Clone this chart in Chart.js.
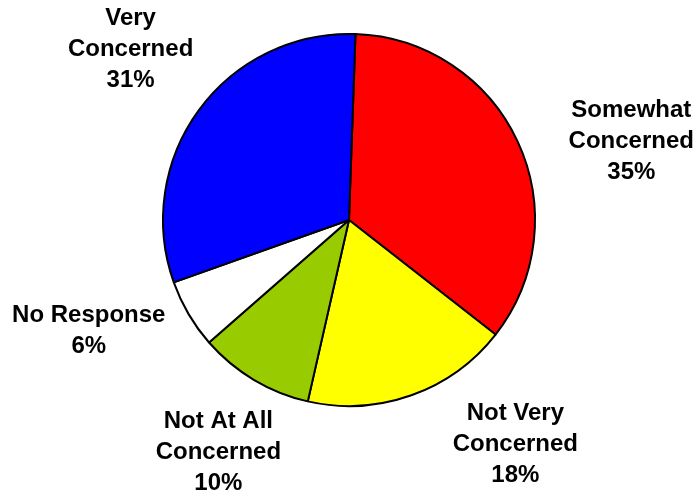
<!DOCTYPE html>
<html>
<head>
<meta charset="utf-8">
<title>Level of concern</title>
<script src="https://cdn.jsdelivr.net/npm/chart.js@4.4.1/dist/chart.umd.min.js"></script>
<style>
    html, body { margin: 0; padding: 0; background: #ffffff; }
    #chartWrap { width: 697px; height: 496px; }
</style>
</head>
<body>
<div id="chartWrap"><canvas id="concernChart" width="697" height="496"></canvas></div>
<script>
// Datos del grafico
const categories = [
    ['Somewhat', 'Concerned'],
    ['Not Very', 'Concerned'],
    ['Not At All', 'Concerned'],
    ['No Response'],
    ['Very', 'Concerned']
];
const percentages = [35, 18, 10, 6, 31];
const sliceColors = ['#ff0000', '#ffff00', '#99cc00', '#ffffff', '#0000ff'];

// Ajuste de posicion de cada etiqueta (giro en grados, distancia en radios)
const labelPlacement = [
    { shift: 9.5, dist: 1.575 },
    { shift: -17, dist: 1.50 },
    { shift: -1.5, dist: 1.435 },
    { shift: 7.4, dist: 1.52 },
    { shift: 1.8, dist: 1.49 }
];

// Plugin para dibujar las etiquetas fuera del pastel
const outsideLabels = {
    id: 'outsideLabels',
    afterDatasetsDraw(chart) {
        const ctx = chart.ctx;
        const meta = chart.getDatasetMeta(0);
        const lineHeight = 31;
        ctx.save();
        ctx.font = 'bold 24px "Liberation Sans", Arial, sans-serif';
        ctx.fillStyle = '#000000';
        ctx.textAlign = 'center';
        ctx.textBaseline = 'middle';
        meta.data.forEach((arc, i) => {
            const p = labelPlacement[i];
            const mid = (arc.startAngle + arc.endAngle) / 2 + p.shift * Math.PI / 180;
            const r = arc.outerRadius * p.dist;
            const cx = arc.x + Math.cos(mid) * r;
            const cy = arc.y + Math.sin(mid) * r;
            const lines = categories[i].concat([percentages[i] + '%']);
            const top = cy - (lines.length - 1) * lineHeight / 2;
            lines.forEach((line, j) => {
                ctx.fillText(line, cx, top + j * lineHeight);
            });
        });
        ctx.restore();
    }
};

document.addEventListener('DOMContentLoaded', function() {
    const ctxConcern = document.getElementById('concernChart').getContext('2d');
    new Chart(ctxConcern, {
        type: 'pie',
        data: {
            labels: categories.map(c => c.join(' ')),
            datasets: [{
                data: percentages,
                backgroundColor: sliceColors,
                borderColor: '#000000',
                borderWidth: 2
            }]
        },
        options: {
            responsive: false,
            animation: false,
            devicePixelRatio: 1,
            rotation: 2,
            layout: {
                padding: { top: 33, bottom: 89, left: 162, right: 161 }
            },
            plugins: {
                legend: { display: false },
                tooltip: { enabled: false }
            }
        },
        plugins: [outsideLabels]
    });
});
</script>
</body>
</html>
